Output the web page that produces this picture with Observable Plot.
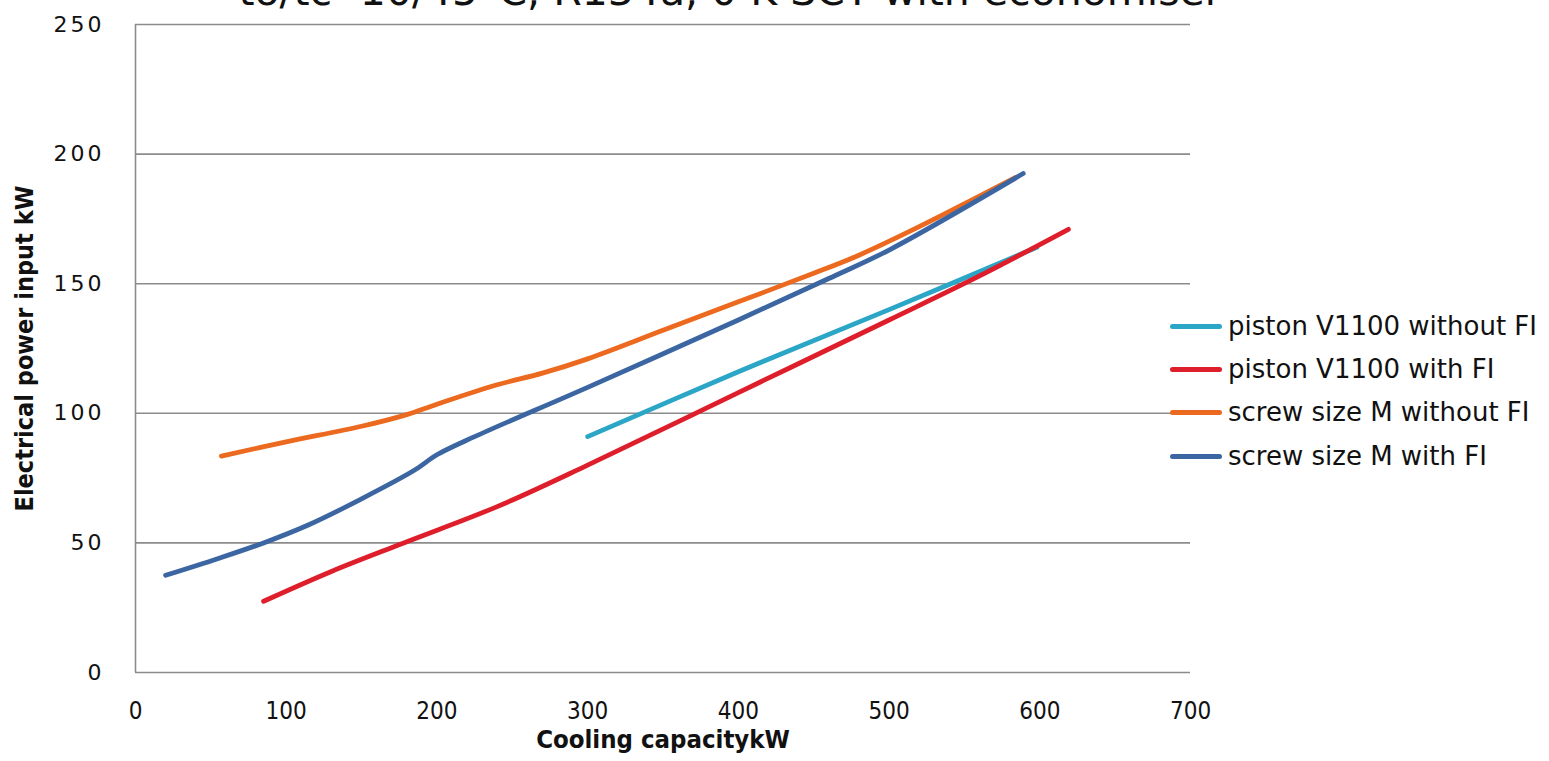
<!DOCTYPE html>
<html>
<head>
<meta charset="utf-8">
<script src="https://cdn.jsdelivr.net/npm/d3@7"></script>
<script src="https://cdn.jsdelivr.net/npm/@observablehq/plot@0.6"></script>
<style>
  html, body { margin: 0; padding: 0; background: #fff; overflow: hidden; }
  #wrap { position: relative; width: 1549px; height: 761px; }
  #title { position: absolute; left: 0; width: 1460px; top: -33px; text-align: center;
           font-family: "DejaVu Sans", sans-serif; font-size: 41px; color: #111; white-space: nowrap; }
  #chart { position: absolute; left: 0; top: 0; }
  #legend { position: absolute; left: 1170px; top: 0; font-family: "DejaVu Sans", sans-serif; font-size: 26px; color: #111; }
  .item { position: absolute; left: 0; white-space: nowrap; display: flex; align-items: center; }
  .swatch { width: 52px; height: 5px; border-radius: 3px; margin-right: 6px; }
  g[aria-label="y-axis tick label"] text { letter-spacing: 3px; }
</style>
</head>
<body>
<div id="wrap">
  <div id="chart"></div>
  <div id="title">to/tc -10/45°C, R134a, 0 K SCT with economiser</div>
  <div id="legend"></div>
</div>
<script>
const seriesNames = ["piston V1100 without FI", "piston V1100 with FI", "screw size M without FI", "screw size M with FI"];
const seriesColors = ["#2ba6c6", "#de1f2b", "#ec6a1f", "#3b66a2"];

const pistonWithoutFI = [[300, 91], [400, 116], [500, 140], [598, 164]];
const pistonWithFI = [[85, 27.5], [130, 39], [178, 50], [240, 64], [300, 80], [400, 108], [500, 136], [560, 153], [619, 171]];
const screwWithoutFI = [[57, 83.5], [100, 89], [150, 95], [180, 99.5], [200, 103.5], [240, 111], [270, 115.5], [300, 121], [350, 132], [400, 143], [450, 154], [480, 161], [520, 172], [584, 191]];
const screwWithFI = [[20, 37.5], [55, 44], [85, 50], [115, 57], [150, 67], [185, 78], [200, 84], [225, 91], [300, 110], [400, 136], [460, 152], [500, 163], [589, 192.5]];

const yTicks = [0, 50, 100, 150, 200, 250];
const xTicks = [0, 100, 200, 300, 400, 500, 600, 700];
const xLabel = "Cooling capacitykW";
const yLabel = "Electrical power input kW";

const seriesData = [pistonWithoutFI, pistonWithFI, screwWithoutFI, screwWithFI];
const rows = [];
seriesData.forEach((arr, i) => arr.forEach(([x, y]) => rows.push({series: seriesNames[i], x, y})));

const condensed = "'DejaVu Sans Condensed', 'Liberation Sans Narrow', sans-serif";

const chart = Plot.plot({
  width: 1549,
  height: 761,
  marginLeft: 135,
  marginRight: 359,
  marginTop: 24,
  marginBottom: 89,
  style: { fontFamily: "DejaVu Sans, sans-serif", color: "#111", background: "transparent" },
  x: { domain: [0, 700] },
  y: { domain: [0, 250] },
  color: { domain: seriesNames, range: seriesColors },
  marks: [
    Plot.ruleY(yTicks, { stroke: "#8c8c8c", strokeWidth: 1.6 }),
    Plot.ruleX([0], { stroke: "#8c8c8c", strokeWidth: 1.6 }),
    Plot.axisY({ ticks: yTicks, tickSize: 0, tickPadding: 31, fontSize: 22, label: null, fontFamily: "DejaVu Sans, sans-serif" }),
    Plot.axisX({ ticks: xTicks, tickSize: 0, tickPadding: 29, fontSize: 24, label: null, fontFamily: condensed }),
    Plot.line(rows, { x: "x", y: "y", z: "series", stroke: "series", strokeWidth: 4.8, curve: "catmull-rom", strokeLinecap: "round", strokeLinejoin: "round" }),
    Plot.text([xLabel], { frameAnchor: "bottom", dy: 75, fontSize: 25.5, fontWeight: "bold", fontFamily: condensed, fill: "#111" }),
    Plot.text([yLabel], { frameAnchor: "left", dx: -111, rotate: -90, textAnchor: "middle", fontSize: 25, fontWeight: "bold", fontFamily: condensed, fill: "#111" })
  ]
});
document.getElementById("chart").appendChild(chart);

const legend = document.getElementById("legend");
const legendTops = [326, 369, 412, 456];
seriesNames.forEach((name, i) => {
  const item = document.createElement("div");
  item.className = "item";
  item.style.top = (legendTops[i] - 16) + "px";
  item.style.height = "32px";
  const sw = document.createElement("div");
  sw.className = "swatch";
  sw.style.background = seriesColors[i];
  const label = document.createElement("span");
  label.textContent = name;
  item.appendChild(sw);
  item.appendChild(label);
  legend.appendChild(item);
});
</script>
</body>
</html>
